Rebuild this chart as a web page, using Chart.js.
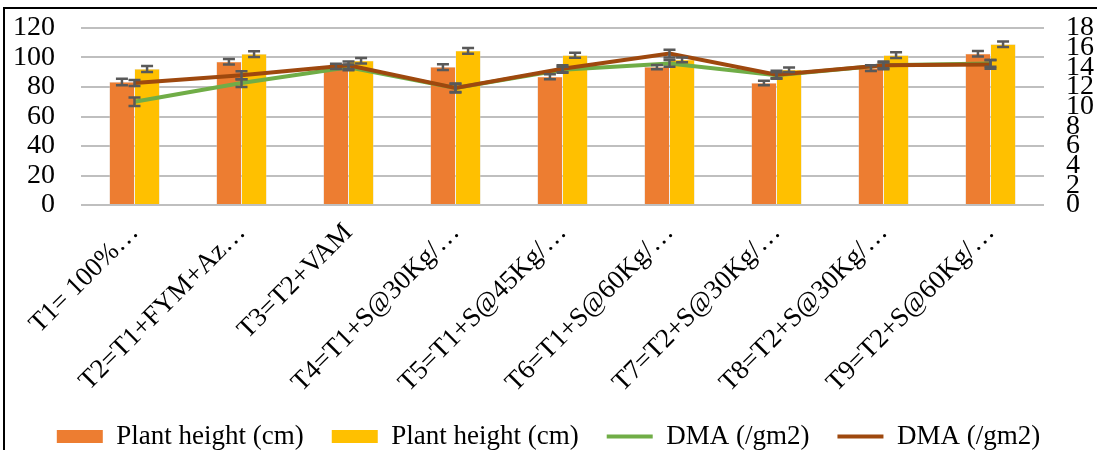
<!DOCTYPE html>
<html>
<head>
<meta charset="utf-8">
<script src="https://cdn.jsdelivr.net/npm/chart.js@4.4.1/dist/chart.umd.min.js"></script>
<style>
  html, body { margin: 0; padding: 0; background: #fff; overflow: hidden; }
  #wrap { position: absolute; left: 0; top: 0; width: 1097px; height: 460px; }
  #frame { position: absolute; left: 3px; top: 7px; width: 1200px; height: 600px;
           border-left: 2px solid #000; border-top: 2px solid #000; pointer-events: none; }
</style>
</head>
<body>
<div id="wrap"><canvas id="mychart" width="1097" height="460"></canvas></div>
<div id="frame"></div>
<script>
const treatments = ['T1= 100%\u2026', 'T2=T1+FYM+Az\u2026', 'T3=T2+VAM', 'T4=T1+S@30Kg/\u2026',
  'T5=T1+S@45Kg/\u2026', 'T6=T1+S@60Kg/\u2026', 'T7=T2+S@30Kg/\u2026', 'T8=T2+S@30Kg/\u2026', 'T9=T2+S@60Kg/\u2026'];

// plant height, left axis
const height1 = [83.4, 97.1, 94.0, 93.5, 87.0, 93.5, 82.7, 92.8, 102.5];
const height1Err = [2.2, 1.9, 1.8, 1.9, 1.7, 1.5, 1.5, 2.0, 1.9];
const height2 = [92.2, 102.3, 97.8, 104.5, 101.6, 98.4, 91.7, 101.6, 109.0];
const height2Err = [2.0, 1.9, 1.8, 1.9, 1.7, 1.6, 1.5, 1.9, 1.9];

// DMA, right axis
const dma1 = [10.5, 12.4, 14.0, 11.9, 13.75, 14.4, 13.2, 14.2, 14.4];
const dma1Err = [0.42, 0.4, 0.3, 0.4, 0.3, 0.35, 0.3, 0.3, 0.35];
const dma2 = [12.4, 13.2, 14.2, 11.9, 13.85, 15.4, 13.25, 14.2, 14.3];
const dma2Err = [0.3, 0.4, 0.4, 0.45, 0.35, 0.4, 0.4, 0.4, 0.45];

const serif = '"Liberation Serif", "Times New Roman", serif';

// draws the I-shaped error bars on top of everything
const errorBars = {
  id: 'errorBars',
  afterDatasetsDraw(chart) {
    const ctx = chart.ctx;
    ctx.save();
    ctx.strokeStyle = '#595959';
    ctx.lineWidth = 2.5;
    chart.data.datasets.forEach((ds, di) => {
      if (!ds.errors) return;
      const meta = chart.getDatasetMeta(di);
      const scale = chart.scales[ds.yAxisID];
      meta.data.forEach((el, i) => {
        const v = ds.data[i], e = ds.errors[i];
        const x = el.x;
        const yHi = scale.getPixelForValue(v + e);
        const yLo = scale.getPixelForValue(v - e);
        ctx.beginPath();
        ctx.moveTo(x, yHi); ctx.lineTo(x, yLo);
        ctx.moveTo(x - 6, yHi); ctx.lineTo(x + 6, yHi);
        ctx.moveTo(x - 6, yLo); ctx.lineTo(x + 6, yLo);
        ctx.stroke();
      });
    });
    ctx.restore();
  }
};

// value axes: fixed width, no extra top/bottom room for labels
function fixAxis(width) {
  return function (scale) {
    scale.width = width;
    scale.paddingTop = 0;
    scale.paddingBottom = 0;
  };
}

const ctx1 = document.getElementById('mychart');
const chart1 = new Chart(ctx1, {
  data: {
    labels: treatments,
    datasets: [
      { type: 'bar', label: 'Plant height (cm)', data: height1, errors: height1Err, yAxisID: 'y',
        backgroundColor: '#ED7D31', borderColor: '#D9D9D9', borderWidth: 0.5,
        order: 3, categoryPercentage: 0.47, barPercentage: 1.0 },
      { type: 'bar', label: 'Plant height (cm)', data: height2, errors: height2Err, yAxisID: 'y',
        backgroundColor: '#FFC000', borderColor: '#D9D9D9', borderWidth: 0.5,
        order: 3, categoryPercentage: 0.47, barPercentage: 1.0 },
      { type: 'line', label: 'DMA (/gm2)', data: dma1, errors: dma1Err, yAxisID: 'y1',
        borderColor: '#70AD47', backgroundColor: '#70AD47', borderWidth: 4, pointRadius: 0, order: 2 },
      { type: 'line', label: 'DMA (/gm2)', data: dma2, errors: dma2Err, yAxisID: 'y1',
        borderColor: '#9E480E', backgroundColor: '#9E480E', borderWidth: 4, pointRadius: 0, order: 1 }
    ]
  },
  options: {
    responsive: false,
    animation: false,
    layout: { padding: { left: 0, right: 0, top: 28, bottom: 0 } },
    plugins: {
      tooltip: { enabled: false },
      legend: {
        position: 'bottom',
        labels: {
          sort: (a, b) => a.datasetIndex - b.datasetIndex,
          color: '#000',
          font: { family: serif, size: 27 },
          padding: 28,
          boxHeight: 13,
          usePointStyle: true,
          pointStyleWidth: 46,
          generateLabels(chart) {
            const items = Chart.defaults.plugins.legend.labels.generateLabels(chart);
            items.forEach(it => {
              const ds = chart.data.datasets[it.datasetIndex];
              it.pointStyle = ds.type === 'line' ? 'line' : 'rect';
              it.lineWidth = ds.type === 'line' ? 4 : 0;
              it.strokeStyle = ds.type === 'line' ? ds.borderColor : ds.backgroundColor;
              it.fillStyle = ds.backgroundColor;
            });
            return items;
          }
        }
      }
    },
    scales: {
      x: {
        grid: { display: false },
        border: { display: false },
        ticks: { color: '#000', font: { family: serif, size: 27 }, maxRotation: 45, minRotation: 45, autoSkip: false, padding: 4 },
        afterFit(scale) { scale.height = 190; }
      },
      y: {
        position: 'left',
        min: 0, max: 120,
        ticks: { stepSize: 20, autoSkip: false, color: '#000', font: { family: serif, size: 28 }, padding: 26 },
        grid: { color: '#BFBFBF', lineWidth: 2, drawTicks: false },
        border: { display: false },
        afterFit: fixAxis(81)
      },
      y1: {
        position: 'right',
        min: 0, max: 18,
        ticks: { stepSize: 2, autoSkip: false, color: '#000', font: { family: serif, size: 28 }, padding: 22 },
        grid: { display: false, drawTicks: false },
        border: { display: false },
        afterFit: fixAxis(53)
      }
    }
  },
  plugins: [errorBars]
});
</script>
</body>
</html>
